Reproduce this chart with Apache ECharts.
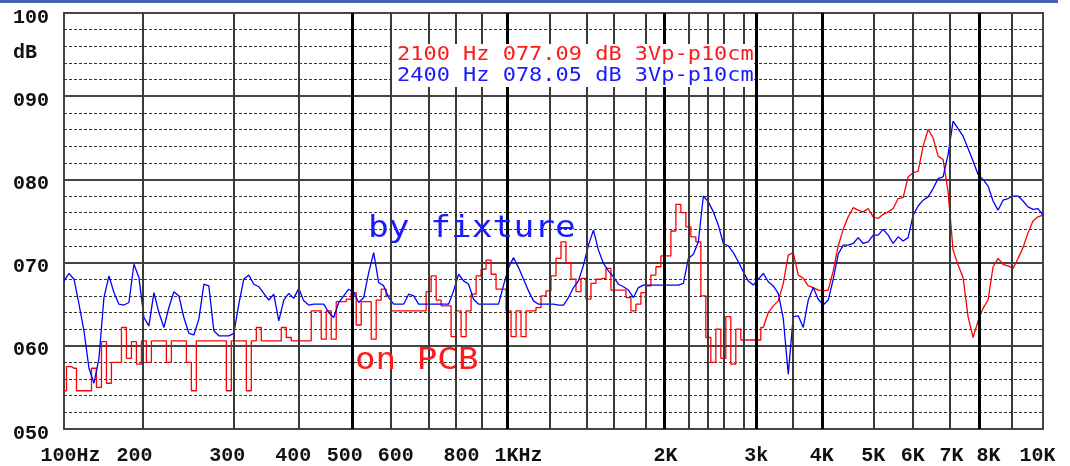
<!DOCTYPE html>
<html>
<head>
<meta charset="utf-8">
<script src="https://cdn.jsdelivr.net/npm/echarts@6/dist/echarts.min.js"></script>
<style>
html, body { margin: 0; padding: 0; background: #fff; }
#chart { width: 1070px; height: 466px; }
</style>
</head>
<body>
<div id="chart"></div>
<script>
// x axis = analyser sample index (197 equally spaced samples, 100Hz .. 10KHz)
const sampleMax = 196;

// by fixture (blue)
const blueDb = [
  67.8, 68.7, 68.0, 65.0, 61.8, 57.3, 55.5, 58.5, 65.8, 68.4,
  66.4, 65.0, 64.9, 65.2, 69.8, 68.2, 63.4, 62.4, 66.4, 64.0,
  62.2, 64.6, 66.5, 66.0, 63.4, 61.5, 61.3, 63.2, 67.4, 67.2,
  61.8, 61.2, 61.2, 61.2, 61.5, 65.0, 68.0, 68.5, 67.4, 67.1,
  66.3, 65.5, 66.2, 63.0, 65.5, 66.3, 65.7, 66.9, 65.4, 64.9,
  65.0, 65.0, 65.0, 64.0, 63.4, 65.2, 66.0, 66.8, 66.4, 65.2,
  65.8, 68.8, 71.2, 67.6, 67.2, 65.8, 65.0, 65.0, 65.0, 66.2,
  66.0, 65.0, 65.0, 65.0, 65.0, 65.0, 65.0, 65.0, 66.6, 68.6,
  67.8, 67.4, 65.6, 65.0, 65.0, 65.0, 65.0, 65.0, 67.3, 69.4,
  70.6, 69.4, 68.0, 66.6, 65.4, 65.0, 65.0, 65.0, 65.0, 64.9,
  64.9, 65.8, 67.0, 67.8, 69.7, 72.1, 73.9, 71.5, 69.9, 69.0,
  68.3, 67.4, 67.1, 66.7, 65.8, 67.0, 67.3, 67.3, 67.3, 67.3,
  67.3, 67.3, 67.3, 67.3, 67.5, 70.5, 71.0, 72.5, 78.0, 77.3,
  76.1, 74.5, 72.3, 72.0, 71.2, 70.1, 68.9, 67.8, 67.3, 68.0,
  68.7, 67.7, 67.2, 66.3, 63.3, 56.6, 63.5, 63.6, 62.2, 65.5,
  67.0, 65.6, 64.9, 65.5, 68.0, 71.0, 72.1, 72.1, 72.3, 73.0,
  72.3, 72.5, 73.3, 73.3, 74.0, 73.3, 72.3, 73.1, 72.6, 73.0,
  75.7, 76.8, 77.5, 77.9, 78.9, 80.1, 80.3, 83.0, 87.0, 86.1,
  85.2, 83.7, 82.2, 80.6, 80.0, 79.2, 77.4, 76.3, 77.5, 77.7,
  78.0, 78.0, 77.4, 76.7, 76.4, 76.5, 75.7
];

// on PCB (red)
const redDb = [
  54.6, 57.5, 57.3, 54.6, 54.6, 54.6, 57.3, 55.0, 60.5, 55.5,
  58.0, 58.0, 62.2, 58.5, 60.5, 57.8, 60.6, 58.0, 60.6, 60.6,
  60.6, 58.0, 60.6, 60.6, 60.6, 58.0, 54.6, 60.6, 60.6, 60.6,
  60.6, 60.6, 60.6, 54.6, 60.6, 60.6, 60.6, 54.6, 60.6, 62.2,
  60.6, 60.6, 60.6, 60.6, 62.2, 61.0, 60.6, 60.6, 60.6, 60.6,
  64.2, 64.2, 60.8, 64.2, 60.8, 65.3, 65.3, 65.6, 66.4, 62.5,
  65.3, 65.3, 60.8, 65.5, 66.8, 66.0, 64.2, 64.2, 64.2, 64.2,
  64.2, 64.2, 64.2, 66.5, 68.4, 65.5, 64.8, 64.8, 61.1, 64.2,
  61.1, 64.2, 66.2, 68.4, 69.2, 70.3, 68.6, 66.8, 66.8, 64.2,
  61.1, 64.2, 61.1, 64.2, 64.2, 64.6, 66.0, 66.6, 68.4, 70.5,
  72.5, 70.0, 68.0, 66.5, 68.1, 65.6, 67.5, 68.0, 68.1, 69.3,
  66.7, 66.7, 66.7, 65.8, 64.2, 65.0, 66.4, 67.2, 68.5, 69.5,
  70.8, 70.8, 73.8, 77.0, 76.0, 74.3, 73.1, 72.5, 66.0, 61.0,
  58.0, 62.0, 58.5, 63.5, 57.8, 62.0, 60.7, 60.7, 60.7, 60.7,
  62.2, 64.0, 64.8, 65.4, 67.5, 70.9, 71.2, 68.5, 68.1, 67.2,
  67.0, 66.7, 66.6, 66.7, 69.0, 72.0, 74.0, 75.5, 76.6, 76.3,
  76.1, 76.5, 75.5, 75.3, 75.8, 76.1, 76.5, 77.7, 77.8, 80.3,
  80.8, 81.0, 84.0, 86.0, 85.0, 82.8, 82.4, 78.5, 71.5, 69.7,
  68.2, 63.5, 61.0, 63.0, 64.5, 65.5, 69.5, 70.5, 69.8, 69.6,
  69.3, 70.5, 71.8, 73.6, 75.0, 75.5, 75.7
];
// the red trace is drawn stepped up to this sample, smooth after it
const redStepEnd = 140;

// frequency tick labels and where they sit (in sample index units)
const freqLabels = ['100Hz', '200', '300', '400', '500', '600', '800', '1KHz',
  '2K', '3k', '4K', '5K', '6K', '7K', '8K', '10K'];
const freqLabelPos = [1.3, 14.1, 32.7, 45.9, 56.2, 66.4, 79.6, 91.0,
  120.4, 138.6, 151.7, 162.0, 169.9, 177.7, 185.1, 194.9];

// vertical grid lines (sample index units)
const gridThin = [15.7, 34.0, 46.9, 65.4, 73.0, 78.5, 83.6, 97.2, 104.6, 110.0, 116.4,
  125.0, 128.8, 132.0, 136.0, 145.8, 162.1, 169.9, 177.3, 189.7];
const gridThick = [57.7, 88.7, 120.1, 138.6, 151.9, 183.3];

const legendRed = '2100 Hz 077.09 dB 3Vp-p10cm';
const legendBlue = '2400 Hz 078.05 dB 3Vp-p10cm';

const chart = echarts.init(document.getElementById('chart'));

const axisFont = { fontFamily: 'Liberation Mono', fontWeight: 'bold', fontSize: 20, color: '#111' };

function textEl(x, y, text, color, size, sx) {
  return {
    type: 'text', x: x, y: y, scaleX: sx, z: 51,
    style: {
      text: text, fill: color,
      font: size + 'px "DejaVu Sans Mono"',
      align: 'left', verticalAlign: 'middle',
      textAlign: 'left', textVerticalAlign: 'middle'
    }
  };
}

const vLines = gridThin.map(p => ({ xAxis: p, lineStyle: { color: '#3a3a3a', width: 2, type: 'solid' } }))
  .concat(gridThick.map(p => ({ xAxis: p, lineStyle: { color: '#000', width: 3, type: 'solid' } })));

const redPts = redDb.map((v, i) => [i, v]);

chart.setOption({
  animation: false,
  backgroundColor: '#fff',
  grid: { left: 64, right: 27, top: 13, bottom: 33.5, show: true, borderColor: '#444', borderWidth: 2 },
  xAxis: {
    type: 'value', min: 0, max: sampleMax,
    axisLine: { show: false }, axisTick: { show: false }, splitLine: { show: false },
    axisLabel: Object.assign({
      customValues: freqLabelPos,
      margin: 17,
      formatter: function (v) {
        for (let k = 0; k < freqLabelPos.length; k++) {
          if (Math.abs(freqLabelPos[k] - v) < 0.01) return freqLabels[k];
        }
        return '';
      }
    }, axisFont)
  },
  yAxis: [
    {
      type: 'value', min: 50, max: 100, interval: 2,
      axisLine: { show: false }, axisTick: { show: false },
      splitLine: { show: true, lineStyle: { color: '#333', width: 1, type: [3, 2] } },
      axisLabel: Object.assign({
        align: 'left', margin: 51, verticalAlign: 'top', lineHeight: 9,
        formatter: function (v) { return v % 10 === 0 ? String(v).padStart(3, '0') : ''; }
      }, axisFont)
    },
    {
      type: 'value', min: 50, max: 100, interval: 10, position: 'left',
      axisLine: { show: false }, axisTick: { show: false }, axisLabel: { show: false },
      splitLine: { show: true, lineStyle: { color: '#444', width: 2 } }
    }
  ],
  series: [
    {
      type: 'line', data: [], z: 1, silent: true,
      markLine: { symbol: ['none', 'none'], silent: true, label: { show: false }, data: vLines }
    },
    {
      name: 'on PCB', type: 'line', z: 3, step: 'middle',
      data: redPts.slice(0, redStepEnd + 1),
      showSymbol: false, lineStyle: { color: '#ff0000', width: 1.3 }
    },
    {
      name: 'on PCB', type: 'line', z: 3,
      data: redPts.slice(redStepEnd),
      showSymbol: false, lineStyle: { color: '#ff0000', width: 1.3 }
    },
    {
      name: 'by fixture', type: 'line', z: 4,
      data: blueDb.map((v, i) => [i, v]),
      showSymbol: false, lineStyle: { color: '#0000ff', width: 1.3 }
    }
  ],
  graphic: [
    { type: 'rect', z: 50, shape: { x: 0, y: 0, width: 1058, height: 3 }, style: { fill: '#4464b4' } },
    { type: 'rect', z: 50, shape: { x: 393, y: 44, width: 361, height: 43 }, style: { fill: '#fff' } },
    textEl(397, 55, legendRed, '#ff1a1a', 19, 1.155),
    textEl(397, 76.5, legendBlue, '#1a1aff', 19, 1.155),
    textEl(368, 229, 'by fixture', '#1a1aff', 30, 1.15),
    textEl(355, 361, 'on PCB', '#ff1a1a', 30, 1.14),
    {
      type: 'text', x: 13, y: 53, z: 51,
      style: { text: 'dB', fill: '#111', font: 'bold 20px "Liberation Mono"',
        align: 'left', verticalAlign: 'middle', textAlign: 'left', textVerticalAlign: 'middle' }
    }
  ]
});
</script>
</body>
</html>
